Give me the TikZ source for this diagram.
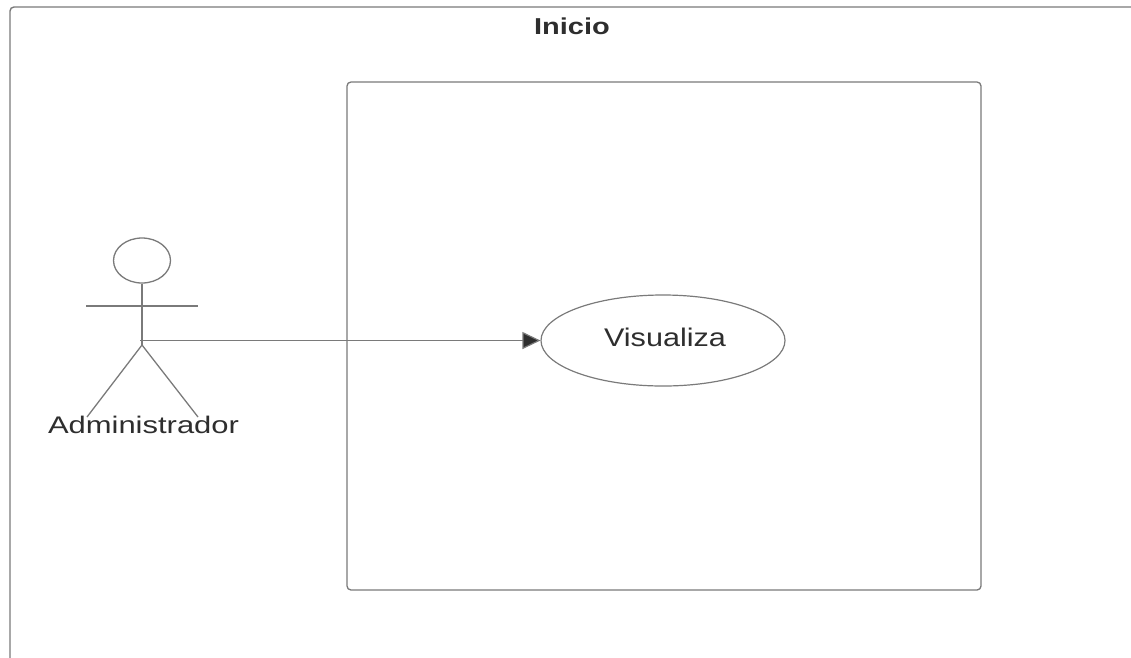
\documentclass[tikz,border=0pt]{standalone}
\usepackage{fontspec}
\setmainfont{Liberation Sans}
\usetikzlibrary{arrows.meta,shapes.geometric}
\definecolor{linegray}{HTML}{7A7A7A}
\definecolor{textgray}{HTML}{2E2E2E}
\tikzset{
  frame/.style={draw=linegray,line width=1.4pt,rounded corners=4pt},
  stick/.style={draw=linegray,line width=1.3pt},
  usecase/.style={ellipse,draw=linegray,line width=1.2pt,minimum width=244pt,minimum height=91pt,inner sep=0pt},
  lbl/.style={text=textgray,inner sep=0pt,anchor=base},
  assoc/.style={draw=linegray,line width=1.2pt,-{Triangle[length=18pt,width=17pt,fill=textgray]}}
}
\begin{document}
\begin{tikzpicture}[x=1pt,y=-1pt]
\useasboundingbox (0,0) rectangle (1131,657);
\clip (0,0) rectangle (1131,657);
% outer frame (cut off at right and bottom)
\draw[frame] (10,680) -- (10,7) -- (1160,7);
\node[lbl] (title) at (572,34.3) {\scalebox{1.26}[1]{\fontsize{23}{27}\selectfont\bfseries Inicio}};
% system boundary
\draw[frame,line width=1.3pt] (347,82) rectangle (981,590);
% actor
\node[ellipse,stick,minimum width=57pt,minimum height=45pt,inner sep=0pt] (head) at (142,260.5) {};
\coordinate (neck) at (142,283);
\coordinate (hip) at (142,345);
\coordinate (armL) at (86,306);
\coordinate (armR) at (198,306);
\coordinate (legL) at (87,417);
\coordinate (legR) at (198,417);
\draw[stick] (head.south) -- (hip);
\draw[stick] (armL) -- (armR);
\draw[stick] (legL) -- (hip) -- (legR);
\node[lbl] (actor) at (143.5,433.3) {\scalebox{1.29}[1]{\fontsize{24}{28}\selectfont Administrador}};
% use case
\node[usecase] (uc) at (663,340.5) {};
\node[lbl] (uclbl) at (665,346.7) {\scalebox{1.2}[1]{\fontsize{25.5}{30}\selectfont Visualiza}};
% association
\coordinate (start) at (140,340.5);
\draw[assoc] (start) -- (uc.west);
\end{tikzpicture}
\end{document}
